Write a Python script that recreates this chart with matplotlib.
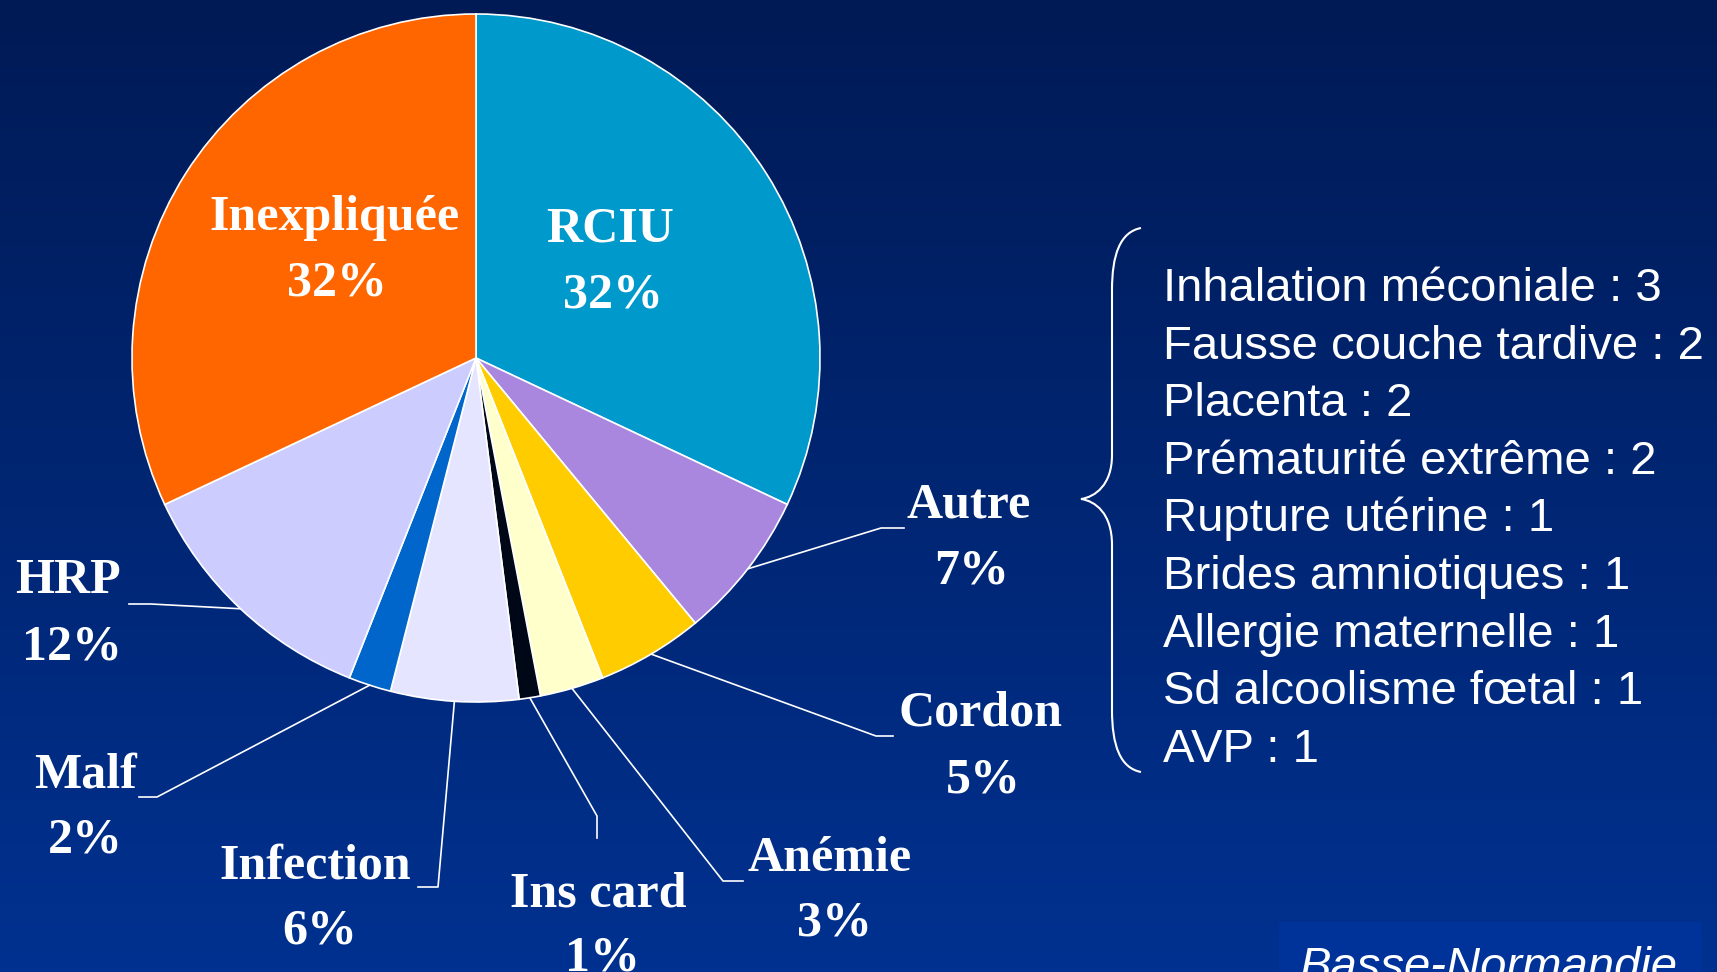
import numpy as np
import matplotlib.pyplot as plt
from matplotlib.path import Path
from matplotlib.patches import PathPatch, Rectangle

W, H = 1717, 972

causes = ["RCIU", "Autre", "Cordon", "Anémie", "Ins card", "Infection", "Malf", "HRP", "Inexpliquée"]
percents = [32, 7, 5, 3, 1, 6, 2, 12, 32]
colors = ["#0099CC", "#A987DE", "#FFCC00", "#FFFFCC", "#000818",
          "#E5E5FF", "#0066CC", "#CCCCFF", "#FF6600"]

details = ["Inhalation méconiale", "Fausse couche tardive", "Placenta",
           "Prématurité extrême", "Rupture utérine", "Brides amniotiques",
           "Allergie maternelle", "Sd alcoolisme fœtal", "AVP"]
detail_counts = [3, 2, 2, 2, 1, 1, 1, 1, 1]

# pixel layout, y measured from the top of the picture
cx, cy, rad = 476, 358, 344
name_pos = [(610, 241), (969, 517), (980, 726), (830, 871), (598, 906),
            (315, 878), (85, 787), (68, 593), (334, 230)]
pct_pos = [(613, 307), (972, 583), (983, 792), (834, 935), (602, 970),
           (320, 943), (85, 852), (72, 659), (337, 296)]
leaders = [None, [(881, 528), (904, 528)], [(876, 736), (893, 736)],
           [(723, 881), (743, 881)], [(597, 816), (597, 838)],
           [(438, 887), (418, 887)], [(157, 797), (139, 797)],
           [(151, 604), (129, 604)], None]


def Y(y):
    return H - y


fig = plt.figure(figsize=(W / 100, H / 100), dpi=100)
ax = fig.add_axes([0, 0, 1, 1])

# background gradient
grad = np.linspace(0, 1, 256)[:, None]
top = np.array([0x00, 0x1A, 0x55]) / 255
bot = np.array([0x00, 0x31, 0x90]) / 255
img = top + (bot - top) * grad[..., None]
ax.imshow(img, extent=[0, W, 0, H], origin="upper", aspect="auto", zorder=0)

wedges, _ = ax.pie(percents, colors=colors, startangle=90, counterclock=False,
                   center=(cx, Y(cy)), radius=rad, frame=True,
                   wedgeprops=dict(edgecolor="white", linewidth=1.2))
ax.set_xlim(0, W)
ax.set_ylim(0, H)
ax.axis("off")

serif = dict(family="Liberation Serif", weight="bold", size=36, color="white",
             ha="center", va="baseline")
for i, w in enumerate(wedges):
    ax.text(name_pos[i][0], Y(name_pos[i][1]), causes[i], **serif)
    ax.text(pct_pos[i][0], Y(pct_pos[i][1]), f"{percents[i]}%", **serif)
    if leaders[i] is None:
        continue
    mid = np.deg2rad((w.theta1 + w.theta2) / 2)
    x0 = cx + rad * np.cos(mid)
    y0 = Y(cy) + rad * np.sin(mid)
    xs = [x0] + [p[0] for p in leaders[i]]
    ys = [y0] + [Y(p[1]) for p in leaders[i]]
    ax.plot(xs, ys, color="white", lw=1.2, zorder=3)

# curly brace
verts = [(1141, 228), (1120, 232), (1112, 255), (1112, 290),
         (1112, 455),
         (1112, 485), (1095, 497), (1081, 499),
         (1095, 501), (1112, 513), (1112, 545),
         (1112, 710),
         (1112, 745), (1120, 768), (1141, 772)]
codes = [Path.MOVETO, Path.CURVE4, Path.CURVE4, Path.CURVE4,
         Path.LINETO,
         Path.CURVE4, Path.CURVE4, Path.CURVE4,
         Path.CURVE4, Path.CURVE4, Path.CURVE4,
         Path.LINETO,
         Path.CURVE4, Path.CURVE4, Path.CURVE4]
brace = Path([(x, Y(y)) for x, y in verts], codes)
ax.add_patch(PathPatch(brace, fill=False, edgecolor="white", lw=1.5))

for i, (d, n) in enumerate(zip(details, detail_counts)):
    ax.text(1163, Y(301 + i * 57.6), f"{d} : {n}", family="Liberation Sans",
            size=34, color="white", ha="left", va="baseline")

ax.add_patch(Rectangle((1279, Y(972)), 421, 50, color="#003399", zorder=2))
ax.text(1300, Y(980), "Basse-Normandie", family="Liberation Sans", style="italic",
        size=34, color="white", ha="left", va="baseline", zorder=3)

fig.savefig("out.png", dpi=100)
